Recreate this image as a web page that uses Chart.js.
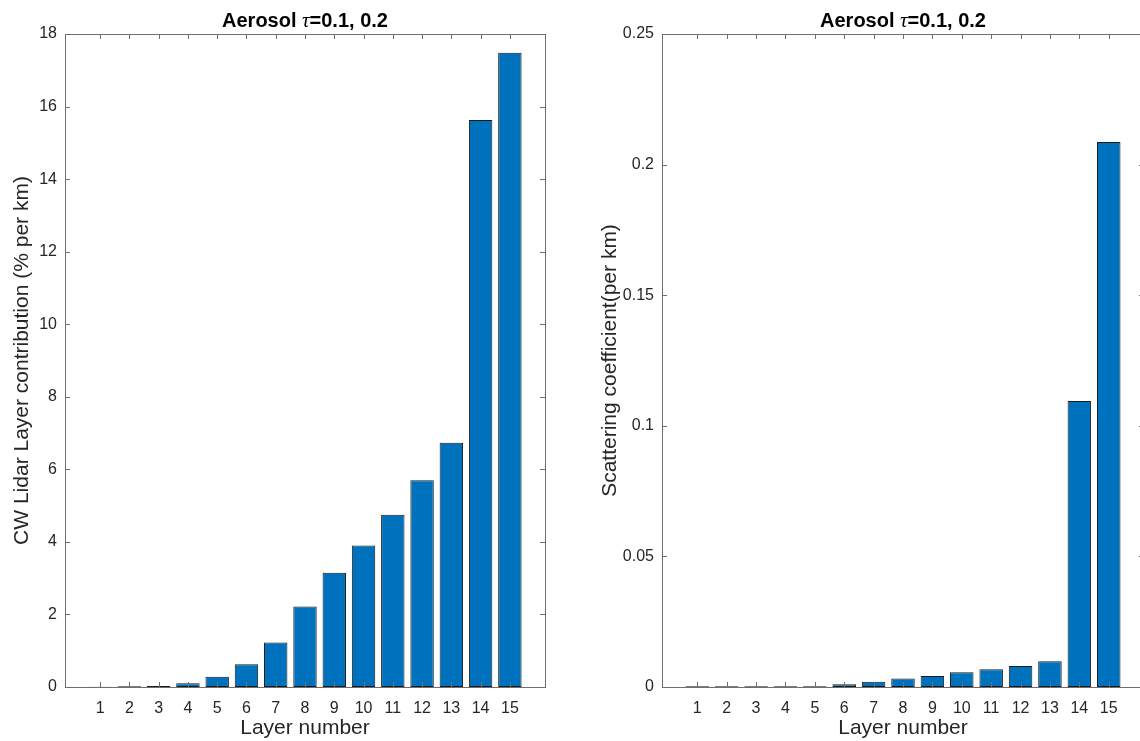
<!DOCTYPE html>
<html>
<head>
<meta charset="utf-8">
<script src="https://cdn.jsdelivr.net/npm/chart.js@4.4.0/dist/chart.umd.min.js"></script>
<style>
	body { margin: 0; background: #fff; overflow: hidden; width: 1140px; height: 741px; position: relative; }
	.panel { position: absolute; top: 0; }
</style>
</head>
<body>
<div class="panel" style="left:0"><canvas id="lidarChart" width="580" height="741"></canvas></div>
<div class="panel" style="left:580px"><canvas id="scatterChart" width="620" height="741"></canvas></div>
<script>
// data
const layers = [1, 2, 3, 4, 5, 6, 7, 8, 9, 10, 11, 12, 13, 14, 15];
const lidarContribution = [0.004, 0.02, 0.03, 0.1, 0.28, 0.63, 1.23, 2.22, 3.15, 3.9, 4.75, 5.7, 6.73, 15.63, 17.48];
const scatteringCoef = [0.0003, 0.0003, 0.0003, 0.0003, 0.0003, 0.0011, 0.002, 0.0033, 0.0042, 0.0056, 0.0068, 0.008, 0.0099, 0.1095, 0.2087];
const lidarTicks = [0, 2, 4, 6, 8, 10, 12, 14, 16, 18];
const scatterTicks = [0, 0.05, 0.1, 0.15, 0.2, 0.25];

const SANS = '"Liberation Sans", Arial, Helvetica, sans-serif';
const AXIS_GRAY = '#6e6e6e';
const TEXT = '#262626';

// MATLAB style box with inward ticks on all four sides
const boxPlugin = {
	id: 'matlabBox',
	afterDatasetsDraw(chart) {
		const { ctx, chartArea: a, scales } = chart;
		const len = 5;
		ctx.save();
		ctx.strokeStyle = AXIS_GRAY;
		ctx.lineWidth = 1;
		ctx.beginPath();
		scales.x.ticks.forEach(t => {
			const px = Math.round(scales.x.getPixelForValue(t.value)) + 0.5;
			ctx.moveTo(px, a.bottom); ctx.lineTo(px, a.bottom - len);
			ctx.moveTo(px, a.top); ctx.lineTo(px, a.top + len);
		});
		scales.y.ticks.forEach(t => {
			const py = Math.round(scales.y.getPixelForValue(t.value)) + 0.5;
			ctx.moveTo(a.left, py); ctx.lineTo(a.left + len, py);
			ctx.moveTo(a.right, py); ctx.lineTo(a.right - len, py);
		});
		ctx.stroke();
		ctx.strokeRect(Math.round(a.left) + 0.5, Math.round(a.top) + 0.5, Math.round(a.right - a.left), Math.round(a.bottom - a.top));
		ctx.restore();
	}
};

// title with an italic tau
const titlePlugin = {
	id: 'tauTitle',
	afterDraw(chart) {
		const { ctx, chartArea: a } = chart;
		const parts = [
			{ text: 'Aerosol ', font: 'bold 20px ' + SANS },
			{ text: 'τ', font: 'italic 21px "Liberation Serif", "DejaVu Serif", serif' },
			{ text: '=0.1, 0.2', font: 'bold 20px ' + SANS },
		];
		ctx.save();
		let total = 0;
		parts.forEach(p => { ctx.font = p.font; p.w = ctx.measureText(p.text).width; total += p.w; });
		let x = (a.left + a.right) / 2 - total / 2;
		ctx.fillStyle = '#000';
		ctx.textBaseline = 'alphabetic';
		ctx.textAlign = 'left';
		parts.forEach(p => { ctx.font = p.font; ctx.fillText(p.text, x, 27); x += p.w; });
		ctx.restore();
	}
};

function makeChart(id, values, yTicks, yMax, yTitle, yWidth, padRight, yTitlePad) {
	return new Chart(document.getElementById(id).getContext('2d'), {
		type: 'bar',
		data: {
			datasets: [{
				data: layers.map((l, i) => ({ x: l, y: values[i] })),
				backgroundColor: '#0072BD',
				borderColor: '#1a1a1a',
				borderWidth: 1,
				borderSkipped: false,
				barPercentage: 0.8,
				categoryPercentage: 1,
			}],
		},
		options: {
			responsive: false,
			animation: false,
			layout: { padding: { top: 34, right: padRight, left: 0, bottom: 0 } },
			plugins: { legend: { display: false }, tooltip: { enabled: false } },
			scales: {
				x: {
					type: 'linear',
					offset: false,
					min: -0.2,
					max: 16.2,
					afterBuildTicks: s => { s.ticks = layers.map(v => ({ value: v })); },
					afterFit: s => { s.height = 54; },
					grid: { display: false, drawTicks: false },
					border: { display: false },
					ticks: { padding: 12, color: TEXT, font: { family: SANS, size: 16 }, maxRotation: 0, autoSkip: false },
					title: { display: true, text: 'Layer number', color: TEXT, font: { family: SANS, size: 21 }, padding: { top: 0, bottom: 0 } },
				},
				y: {
					min: 0,
					max: yMax,
					afterBuildTicks: s => { s.ticks = yTicks.map(v => ({ value: v })); },
					afterFit: s => { s.width = yWidth; },
					grid: { display: false, drawTicks: false },
					border: { display: false },
					ticks: { padding: 8, color: TEXT, font: { family: SANS, size: 16 }, callback: v => String(+v.toFixed(2)) },
					title: { display: true, text: yTitle, color: TEXT, font: { family: SANS, size: 21 }, padding: { top: yTitlePad, bottom: 0 } },
				},
			},
		},
		plugins: [boxPlugin, titlePlugin],
	});
}

makeChart('lidarChart', lidarContribution, lidarTicks, 18, 'CW Lidar Layer contribution (% per km)', 65, 35, 10);
makeChart('scatterChart', scatteringCoef, scatterTicks, 0.25, 'Scattering coefficient(per km)', 82, 56, 18);
</script>
</body>
</html>
